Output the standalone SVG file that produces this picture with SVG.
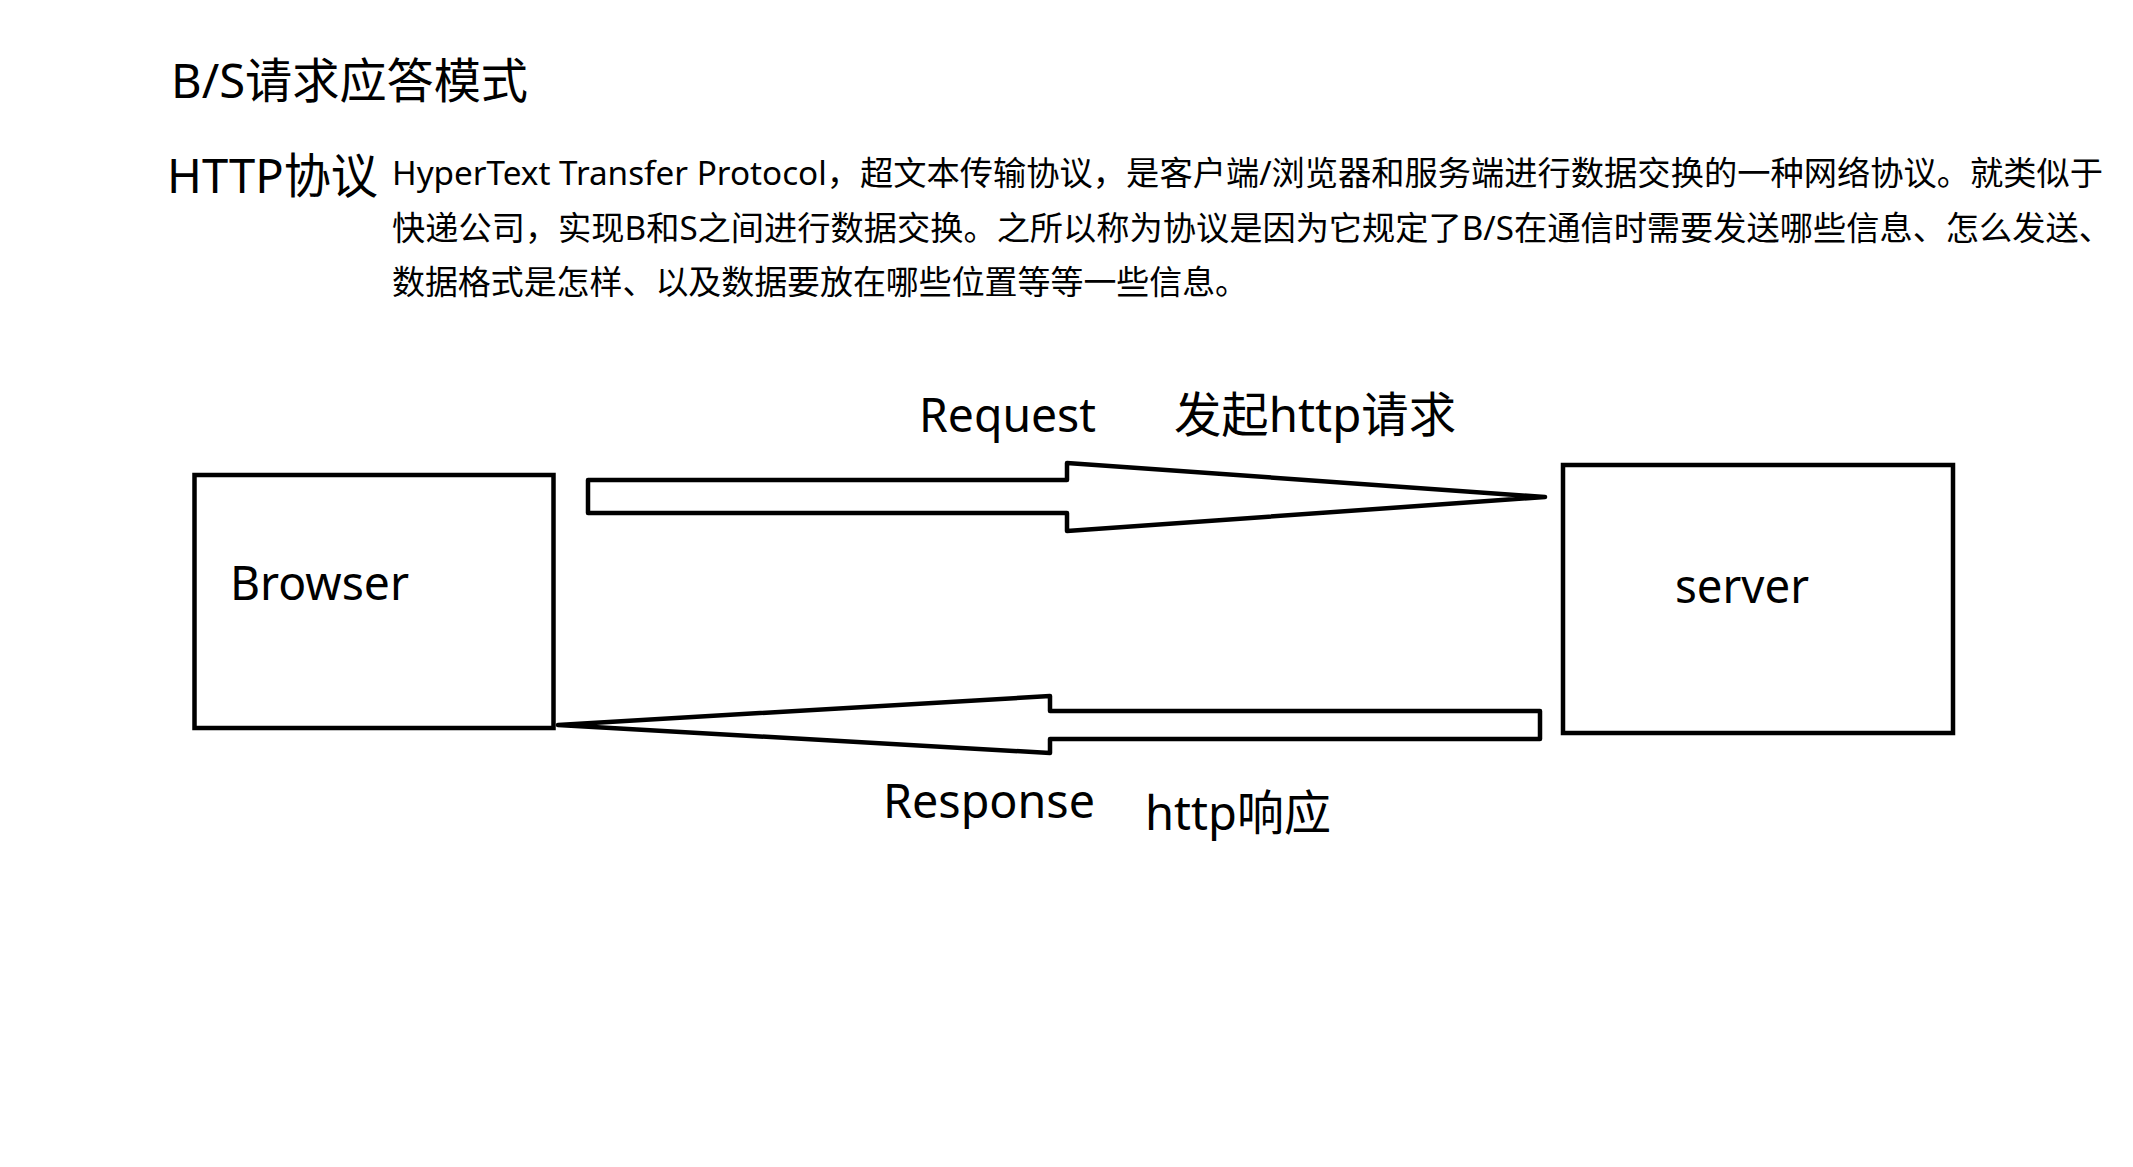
<svg xmlns="http://www.w3.org/2000/svg" width="2133" height="1167" viewBox="0 0 2133 1167">
<style>
  text { font-family: "Noto Sans", "Noto Sans CJK SC", sans-serif; fill: #000; }
  .title { font-size: 48px; }
  .para { font-size: 33px; }
  .lbl { font-size: 48px; }
  .box { fill: #fff; stroke: #000; stroke-width: 4.5; }
  .arrow { fill: #fff; stroke: #000; stroke-width: 4.5; stroke-linejoin: round; }
</style>
<rect x="0" y="0" width="2133" height="1167" fill="#fff"/>
<g id="header">
  <text class="title" x="171" y="98" textLength="357" lengthAdjust="spacingAndGlyphs">B/S请求应答模式</text>
  <text class="title" x="167" y="193" font-size="50" textLength="211" lengthAdjust="spacingAndGlyphs">HTTP协议</text>
  <text class="para" x="392" y="185" textLength="1711" lengthAdjust="spacingAndGlyphs">HyperText Transfer Protocol，超文本传输协议，是客户端/浏览器和服务端进行数据交换的一种网络协议。就类似于</text>
  <text class="para" x="392" y="240" textLength="1720" lengthAdjust="spacingAndGlyphs">快递公司，实现B和S之间进行数据交换。之所以称为协议是因为它规定了B/S在通信时需要发送哪些信息、怎么发送、</text>
  <text class="para" x="392" y="294" textLength="856" lengthAdjust="spacingAndGlyphs">数据格式是怎样、以及数据要放在哪些位置等等一些信息。</text>
</g>
<g id="browser">
  <rect class="box" x="194.5" y="475" width="359" height="253"/>
  <text class="lbl" x="230" y="600" textLength="179" lengthAdjust="spacingAndGlyphs">Browser</text>
</g>
<g id="server">
  <rect class="box" x="1563" y="465" width="390" height="268"/>
  <text class="lbl" x="1675" y="603" textLength="134" lengthAdjust="spacingAndGlyphs">server</text>
</g>
<g id="connectors">
  <polygon class="arrow" points="588,480 1067,480 1067,463 1545,497 1067,531 1067,513 588,513"/>
  <polygon class="arrow" points="1540,711 1050,711 1050,696 558,725 1050,753 1050,739 1540,739"/>
  <text class="lbl" x="919" y="432" textLength="177" lengthAdjust="spacingAndGlyphs">Request</text>
  <text class="lbl" x="1174" y="432" textLength="282" lengthAdjust="spacingAndGlyphs">发起http请求</text>
  <text class="lbl" x="883" y="818" textLength="212" lengthAdjust="spacingAndGlyphs">Response</text>
  <text class="lbl" x="1145" y="830" textLength="186" lengthAdjust="spacingAndGlyphs">http响应</text>
</g>
</svg>
